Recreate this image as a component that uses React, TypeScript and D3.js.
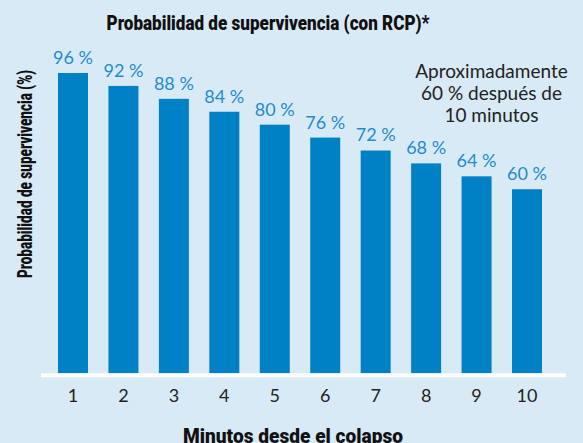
import React from "react";
import * as d3 from "d3";

const minutes = ["1", "2", "3", "4", "5", "6", "7", "8", "9", "10"];
const survival = [96, 92, 88, 84, 80, 76, 72, 68, 64, 60];
const titleText = "Probabilidad de supervivencia (con RCP)*";
const yLabel = "Probabilidad de supervivencia (%)";
const xLabel = "Minutos desde el colapso";
const noteLines = ["Aproximadamente", "60 % después de", "10 minutos"];

const W = 583;
const H = 443;
const BG = "#d9eaf7";
const BAR = "#0080c5";
const LABEL = "#1e8bd2";
const TEXT = "#222222";
const BOLD_FONT = "Roboto, 'Liberation Sans', sans-serif";
const BODY_FONT = "Lato, 'Open Sans', sans-serif";

export default function App() {
  const x = d3.scalePoint<string>().domain(minutes).range([73, 527]);
  const y = d3.scaleLinear().domain([3, 96]).range([373.3, 73]);
  const barW = 30;
  const baseY = y(3);

  return (
    <svg
      width={W}
      height={H}
      style={{ position: "absolute", left: 0, top: 0, display: "block" }}
    >
      <rect x={0} y={0} width={W} height={H} fill={BG} />
      <text
        x={268}
        y={30}
        textAnchor="middle"
        fontFamily={BOLD_FONT}
        fontWeight={900}
        fontSize={21}
        fill="#111"
        textLength={323}
        lengthAdjust="spacingAndGlyphs"
      >
        {titleText}
      </text>
      {minutes.map((m, i) => (
        <g key={m}>
          <rect
            x={(x(m) as number) - barW / 2}
            y={y(survival[i])}
            width={barW}
            height={baseY - y(survival[i])}
            fill={BAR}
          />
          <text
            x={x(m) as number}
            y={y(survival[i]) - 9}
            textAnchor="middle"
            fontFamily={BODY_FONT}
            fontSize={18}
            fill={LABEL}
          >
            {`${survival[i]} %`}
          </text>
          <text
            x={x(m) as number}
            y={402}
            textAnchor="middle"
            fontFamily={BODY_FONT}
            fontSize={18}
            fill={TEXT}
          >
            {m}
          </text>
        </g>
      ))}
      <line x1={41} x2={566} y1={baseY + 2} y2={baseY + 2} stroke="#ffffff" strokeWidth={4} />
      {noteLines.map((l, i) => (
        <text
          key={i}
          x={491.5}
          y={77.7 + i * 22}
          textAnchor="middle"
          fontFamily={BODY_FONT}
          fontSize={19}
          fill={TEXT}
        >
          {l}
        </text>
      ))}
      <text
        transform="translate(32,174) rotate(-90)"
        textAnchor="middle"
        fontFamily={BOLD_FONT}
        fontWeight={900}
        fontSize={21}
        fill="#111"
        textLength={208}
        lengthAdjust="spacingAndGlyphs"
      >
        {yLabel}
      </text>
      <text
        x={293}
        y={443}
        textAnchor="middle"
        fontFamily={BOLD_FONT}
        fontWeight={900}
        fontSize={21}
        fill="#111"
        textLength={220}
        lengthAdjust="spacingAndGlyphs"
      >
        {xLabel}
      </text>
    </svg>
  );
}
